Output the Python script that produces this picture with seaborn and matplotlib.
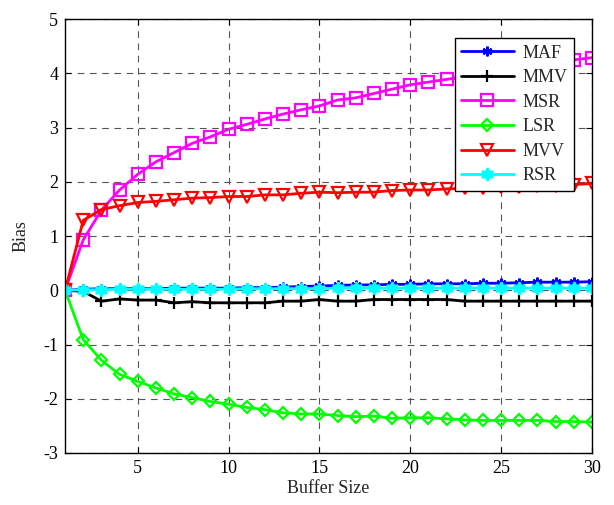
import matplotlib
matplotlib.use("Agg")
import matplotlib.pyplot as plt
import seaborn as sns

buffer_size = list(range(1, 31))

maf = [0, 0.02, 0.03, 0.03, 0.03, 0.03, 0.04, 0.04, 0.04, 0.04, 0.05, 0.05, 0.06, 0.07, 0.08,
       0.09, 0.10, 0.10, 0.11, 0.11, 0.12, 0.12, 0.12, 0.13, 0.13, 0.14, 0.15, 0.15, 0.15, 0.16]
mmv = [0, -0.02, -0.20, -0.16, -0.18, -0.18, -0.23, -0.21, -0.23, -0.23, -0.23, -0.23, -0.20, -0.20, -0.17,
       -0.20, -0.20, -0.17, -0.17, -0.17, -0.17, -0.17, -0.20, -0.20, -0.20, -0.20, -0.20, -0.20, -0.20, -0.20]
msr = [0, 0.93, 1.48, 1.85, 2.14, 2.37, 2.54, 2.71, 2.83, 2.97, 3.06, 3.16, 3.25, 3.33, 3.40,
       3.51, 3.55, 3.63, 3.71, 3.79, 3.84, 3.89, 3.94, 4.00, 4.05, 4.10, 4.15, 4.20, 4.25, 4.29]
lsr = [0, -0.91, -1.29, -1.55, -1.68, -1.80, -1.91, -1.98, -2.05, -2.10, -2.16, -2.20, -2.26, -2.28, -2.28,
       -2.31, -2.33, -2.32, -2.36, -2.35, -2.35, -2.37, -2.39, -2.40, -2.40, -2.40, -2.40, -2.42, -2.42, -2.43]
mvv = [0, 1.29, 1.49, 1.56, 1.62, 1.64, 1.67, 1.70, 1.71, 1.73, 1.73, 1.76, 1.76, 1.79, 1.81,
       1.80, 1.81, 1.81, 1.84, 1.85, 1.85, 1.87, 1.88, 1.89, 1.90, 1.91, 1.92, 1.93, 1.95, 1.97]
rsr = [0, 0.01, 0.01, 0.02, 0.02, 0.02, 0.02, 0.02, 0.02, 0.02, 0.03, 0.03, 0.03, 0.03, 0.03,
       0.04, 0.04, 0.04, 0.04, 0.04, 0.04, 0.04, 0.04, 0.04, 0.04, 0.04, 0.04, 0.04, 0.04, 0.04]

# name, values, colour, marker, face colour, marker size
series = [
    ("MAF", maf, "#0000ff", (6, 2, 0), "#0000ff", 7),
    ("MMV", mmv, "#000000", "+", "#000000", 8),
    ("MSR", msr, "#ff00ff", "s", "none", 8),
    ("LSR", lsr, "#00ff00", "D", "none", 6.5),
    ("MVV", mvv, "#ff0000", "v", "none", 8),
    ("RSR", rsr, "#00ffff", (6, 1, 0), "#00ffff", 9),
]

sns.set_style("ticks")
plt.rcParams["font.family"] = ["Liberation Serif", "DejaVu Serif"]
plt.rcParams["font.size"] = 13
plt.rcParams["axes.unicode_minus"] = False

fig = plt.figure(figsize=(6.14, 5.05), dpi=100)
ax = fig.add_axes([0.106, 0.103, 0.858, 0.859])

for name, vals, color, marker, face, ms in series:
    sns.lineplot(x=buffer_size, y=vals, ax=ax, color=color, marker=marker,
                 markerfacecolor=face, markeredgecolor=color, markersize=ms,
                 markeredgewidth=1.6, linewidth=2, label=name)

ax.set_xlim(1, 30)
ax.set_ylim(-3, 5)
ax.set_xticks([5, 10, 15, 20, 25, 30])
ax.set_yticks(range(-3, 6))
ax.grid(True, linestyle=(0, (6, 5)), color="#555555", linewidth=0.8)
ax.tick_params(direction="in", top=True, right=True, length=4, labelsize=13,
               colors="black", pad=5)
for sp in ax.spines.values():
    sp.set_visible(True)
    sp.set_color("black")
    sp.set_linewidth(1)
ax.set_xlabel("Buffer Size", fontsize=13, labelpad=2)
ax.set_ylabel("Bias", fontsize=13, labelpad=10)

leg = ax.legend(loc="upper right", bbox_to_anchor=(0.983, 0.977), fontsize=13,
                frameon=True, fancybox=False, edgecolor="black", framealpha=1,
                handlelength=2.9, handletextpad=0.5, labelspacing=0.42, borderpad=0.35)
leg.get_frame().set_linewidth(1)

fig.savefig("out.png", dpi=100)
